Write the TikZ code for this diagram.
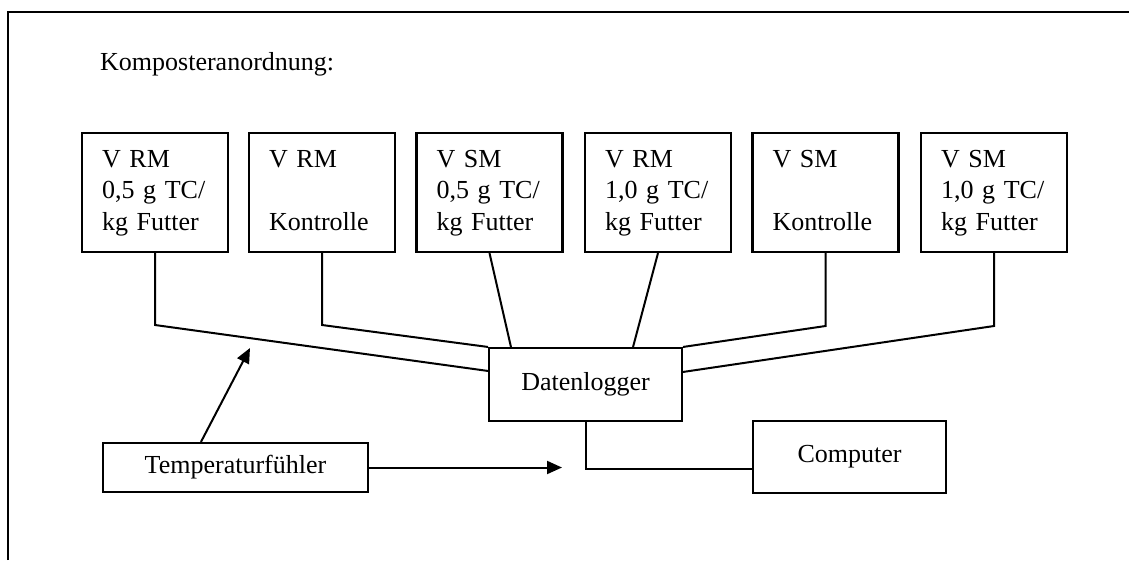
\documentclass[tikz,border=0pt]{standalone}
\usepackage{fontspec}
\setmainfont{Liberation Serif}
\usetikzlibrary{arrows.meta}
\begin{document}
\begin{tikzpicture}[x=1pt,y=-1pt,
  txt/.style={font=\fontsize{26}{31.5}\selectfont},
  kbox/.style={draw,line width=2.1pt,txt,align=left,text width=106pt,inner xsep=20pt,inner ysep=0pt,minimum height=119pt},
  cbox/.style={draw,line width=2.1pt,txt,inner sep=0pt},
  wire/.style={line width=2pt,line join=miter},
  arr/.style={line width=2pt,-{Triangle[length=15pt,width=13pt]}}]
\useasboundingbox (0,0) rectangle (1129,560);
\draw[line width=2.2pt] (8,560) -- (8,12) -- (1129,12);
\node[txt,anchor=base west,inner sep=0pt] (title) at (100,70) {Komposteranordnung:};
\node[kbox] (b1) at (155,192.5) {\strut V RM\\0,5 g TC/\\kg Futter\strut};
\node[kbox] (b2) at (322,192.5) {\strut V RM\\\strut\\Kontrolle\strut};
\node[kbox] (b3) at (489.5,192.5) {\strut V SM\\0,5 g TC/\\kg Futter\strut};
\node[kbox] (b4) at (658,192.5) {\strut V RM\\1,0 g TC/\\kg Futter\strut};
\node[kbox] (b5) at (825.5,192.5) {\strut V SM\\\strut\\Kontrolle\strut};
\node[kbox] (b6) at (994,192.5) {\strut V SM\\1,0 g TC/\\kg Futter\strut};
\node[cbox,minimum width=193pt,minimum height=73pt] (dl) at (585.5,384.5) {Datenlogger};
\node[cbox,minimum width=193pt,minimum height=72pt] (comp) at (849.5,457) {Computer};
\node[cbox,minimum width=265pt,minimum height=49pt] (temp) at (235.5,467.5) {Temperaturfühler};
% corners of the wires
\coordinate (k1) at (b1.south |- 0,325);
\coordinate (k2) at (b2.south |- 0,325);
\coordinate (k5) at (b5.south |- 0,326);
\coordinate (k6) at (b6.south |- 0,326);
\coordinate (dlA) at (dl.north west);
\coordinate (dlB) at ([yshift=-24pt]dl.north west);
\coordinate (dlC) at ([xshift=23pt]dl.north west);
\coordinate (dlD) at ([xshift=-50pt]dl.north east);
\coordinate (dlE) at (dl.north east);
\coordinate (dlF) at ([yshift=-25pt]dl.north east);
\coordinate (compIn) at ([yshift=-12pt]comp.west);
\coordinate (tip1) at (250,348);
\coordinate (tip2) at (562,467.5);
\coordinate (tstart) at ([xshift=99pt]temp.north west);
\draw[wire] (b1.south) -- (k1) -- (dlB);
\draw[wire] (b2.south) -- (k2) -- (dlA);
\draw[wire] (b3.south) -- (dlC);
\draw[wire] (b4.south) -- (dlD);
\draw[wire] (b5.south) -- (k5) -- (dlE);
\draw[wire] (b6.south) -- (k6) -- (dlF);
\draw[wire] (dl.south) |- (compIn);
\draw[arr] (tstart) -- (tip1);
\draw[arr] (temp.east) -- (tip2);
\end{tikzpicture}
\end{document}
